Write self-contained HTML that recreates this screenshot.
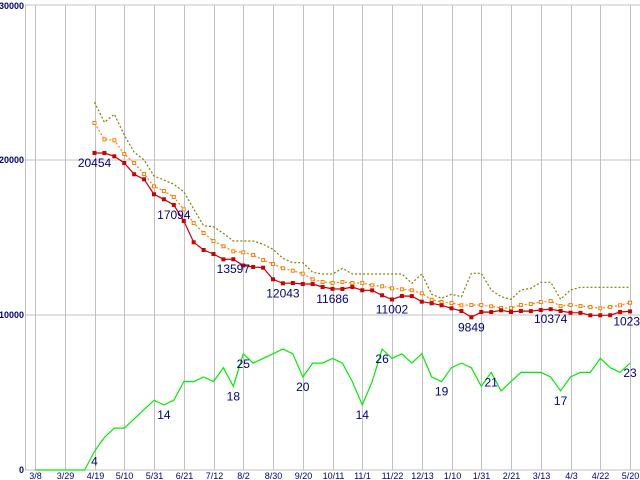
<!DOCTYPE html>
<html><head><meta charset="utf-8"><style>
html,body{margin:0;padding:0;background:#fff;}
svg{display:block;font-family:"Liberation Sans",sans-serif;}
</style></head><body>
<svg id="chart" width="640" height="480" viewBox="0 0 640 480" xmlns="http://www.w3.org/2000/svg">
<g id="grid"></g>
<g id="series"></g>
<g id="labels"></g>
</svg>
<script>
const xLabels=["3/8","3/29","4/19","5/10","5/31","6/21","7/12","8/2","8/30","9/20","10/11","11/1","11/22","12/13","1/10","1/31","2/21","3/13","4/3","4/22","5/20"];
const yTicks=[0,10000,20000,30000];
const N=null;
const redSeries=[N,N,N,N,N,N,20454,20450,20239,19806,19077,18755,17787,17465,17094,16065,14690,14194,13935,13590,13597,13194,13097,13052,12303,12043,12065,12000,12000,11806,11686,11680,11806,11594,11590,11271,11002,11226,11220,10858,10755,10626,10432,10258,9849,10194,10190,10303,10194,10258,10250,10320,10374,10258,10148,10140,9981,9980,9985,10194,10230];
const orangeSeries=[N,N,N,N,N,N,22387,21335,21271,20387,19806,19097,18303,18000,17613,16819,15935,15290,14774,14432,14110,14045,13871,13548,13290,13013,12858,12665,12303,12129,12065,12129,12065,12065,11916,11852,11723,11658,11594,11400,10987,10839,10774,10626,10645,10645,10561,10452,10452,10645,10710,10839,10903,10581,10645,10581,10516,10432,10516,10626,10794];
const oliveSeries=[N,N,N,N,N,N,23722,22432,22948,21613,20497,20000,18968,18710,18432,17955,16839,15761,15697,15271,14774,14774,14774,14561,14239,13658,13374,13374,12755,12645,12645,13013,12645,12645,12645,12645,12645,12645,12045,12645,11335,11077,11335,11181,12690,12690,11613,11181,11013,11613,11723,12110,12110,11013,11613,11787,11787,11787,11787,11787,11787];
const greenSeries=[0,0,0,0,0,0,4,7,9,9,11,13,15,14,15,19,19,20,19,22,18,25,23,24,25,26,25,20,23,23,24,23,19,14,19,26,24,25,23,25,20,19,22,23,22,18,21,17,19,21,21,21,20,17,20,21,21,24,22,21,23];
const redLabelIdx=[6,14,20,25,30,36,44,52,60];
const greenLabelIdx=[6,13,20,21,27,33,35,41,46,53,60];

const NS="http://www.w3.org/2000/svg";
const X0=35, DX=595/60, Y0=470, YTOP=5;
const xs=i=>X0+i*DX;
const ys=v=>Y0-(v/30000)*(Y0-YTOP);
const yg=v=>Y0-v*4.65;
function mk(tag,attrs,parent){const e=document.createElementNS(NS,tag);for(const k in attrs)e.setAttribute(k,attrs[k]);parent.appendChild(e);return e;}
const grid=document.getElementById('grid'),ser=document.getElementById('series'),lab=document.getElementById('labels');

yTicks.forEach(t=>{
  const l=mk('line',{x1:25,x2:640,y1:ys(t),y2:ys(t),stroke:'#c0c0c0','stroke-width':1},grid);
  
  
  const tx=mk('text',{x:24,y:ys(t)+(t===30000?4:3),'text-anchor':'end','font-size':9,fill:'#000080','font-weight':'bold'},grid);
  tx.textContent=t;
  
  
});
const ax=mk('line',{x1:25.5,x2:25.5,y1:5,y2:470,stroke:'#c0c0c0'},grid);


xLabels.forEach((s,k)=>{
  const x=Math.round(xs(k*3))+0.5;
  const l=mk('line',{x1:x,x2:x,y1:5,y2:470,stroke:'#c0c0c0','stroke-width':1},grid);
  
  
  const tx=mk('text',{x:x,y:479,'text-anchor':'middle','font-size':9,fill:'#000080'},grid);
  tx.textContent=s;
  
  
});

function pts(arr,f){const p=[];arr.forEach((v,i)=>{if(v!==null)p.push(xs(i).toFixed(1)+','+f(v).toFixed(1));});return p.join(' ');}
const gl=mk('polyline',{points:pts(greenSeries,yg),fill:'none',stroke:'#00ee00','stroke-width':1.2},ser);


const ol=mk('polyline',{points:pts(oliveSeries,ys),fill:'none',stroke:'#808000','stroke-width':1.2,'stroke-dasharray':'2,2'},ser);


const orl=mk('polyline',{points:pts(orangeSeries,ys),fill:'none',stroke:'#ff8000','stroke-width':1.2,'stroke-dasharray':'2,2'},ser);


orangeSeries.forEach((v,i)=>{if(v===null)return;
  const r=mk('rect',{x:xs(i)-1.5,y:ys(v)-1.5,width:3,height:3,fill:'#fff',stroke:'#ff8000','stroke-width':1},ser);
  
  
});
const rl=mk('polyline',{points:pts(redSeries,ys),fill:'none',stroke:'#cc0000','stroke-width':1.2},ser);


redSeries.forEach((v,i)=>{if(v===null)return;
  const r=mk('rect',{x:xs(i)-2,y:ys(v)-2,width:4,height:4,fill:'#cc0000'},ser);
  
  
});
redLabelIdx.forEach(i=>{
  const t=mk('text',{x:xs(i),y:ys(redSeries[i])+14,'text-anchor':'middle','font-size':12,fill:'#000080'},lab);
  t.textContent=redSeries[i];
  
  
});
greenLabelIdx.forEach(i=>{
  const t=mk('text',{x:xs(i),y:yg(greenSeries[i])+14,'text-anchor':'middle','font-size':12,fill:'#000080'},lab);
  t.textContent=greenSeries[i];
  
  
});
</script>
</body></html>
